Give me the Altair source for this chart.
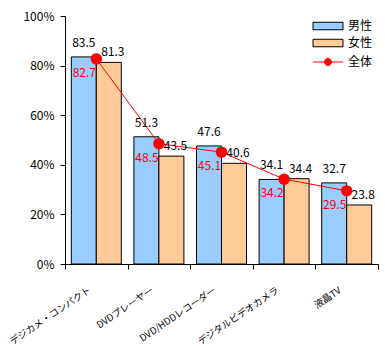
import altair as alt
import pandas as pd

categories = ["デジカメ・コンパクト", "DVDプレーヤー", "DVD/HDDレコーダー", "デジタルビデオカメラ", "液晶TV"]
male = [83.5, 51.3, 47.6, 34.1, 32.7]
female = [81.3, 43.5, 40.6, 34.4, 23.8]
total = [82.7, 48.5, 45.1, 34.2, 29.5]
series = ["男性", "女性"]
total_name = "全体"

FONT = "Noto Sans CJK JP"

rows = []
for c, m, f in zip(categories, male, female):
    rows.append({"cat": c, "s": "男性", "v": m})
    rows.append({"cat": c, "s": "女性", "v": f})
bars_df = pd.DataFrame(rows)
tot_df = pd.DataFrame({"cat": categories, "s": total_name, "v": total})

x_enc = alt.X(
    "cat:N",
    sort=categories,
    scale=alt.Scale(paddingInner=0, paddingOuter=0),
    axis=alt.Axis(
        title=None,
        labelAngle=-34,
        labelAlign="right",
        labelBaseline="middle",
        labelFont=FONT,
        labelFontSize=9.5,
        labelColor="black",
        labelPadding=20,
        labelOffset=-7,
        tickBand="extent",
        tickSize=5,
        tickColor="black",
        domainColor="black",
    ),
)
y_enc = alt.Y(
    "v:Q",
    scale=alt.Scale(domain=[0, 100]),
    axis=alt.Axis(
        title=None,
        values=[0, 20, 40, 60, 80, 100],
        labelExpr="datum.value + '%'",
        labelFont=FONT,
        labelFontSize=12,
        labelColor="black",
        tickSize=5,
        tickColor="black",
        domainColor="black",
        grid=False,
        labelPadding=6,
    ),
)
xoff = alt.XOffset("s:N", sort=series, scale=alt.Scale(domain=series, paddingInner=0, paddingOuter=0.252))

base = alt.Chart(bars_df)

bars = base.mark_bar(stroke="black", strokeWidth=1).encode(
    x=x_enc,
    y=y_enc,
    xOffset=xoff,
    fill=alt.Fill(
        "s:N",
        sort=series,
        scale=alt.Scale(domain=series, range=["#99CCFF", "#FFCC99"]),
        legend=alt.Legend(
            title=None,
            orient="none",
            legendX=257,
            legendY=4,
            symbolType="M-3,-0.75H3V0.75H-3Z",
            symbolSize=100,
            symbolStrokeColor="black",
            symbolStrokeWidth=1,
            labelOffset=14,
            labelFont=FONT,
            labelFontSize=12,
            labelColor="black",
            rowPadding=5,
            padding=0,
        ),
    ),
)

male_lbl = base.transform_filter(alt.datum.s == "男性").mark_text(
    font=FONT, fontSize=12, baseline="bottom", dy=-7, color="black"
).encode(x=alt.X("cat:N", sort=categories), y="v:Q", xOffset=xoff, text=alt.Text("v:Q", format=".1f"))

female_lbl = base.transform_filter(alt.datum.s == "女性").mark_text(
    font=FONT, fontSize=12, baseline="bottom", dy=-3, dx=4, color="black"
).encode(x=alt.X("cat:N", sort=categories), y="v:Q", xOffset=xoff, text=alt.Text("v:Q", format=".1f"))

tbase = alt.Chart(tot_df)
line = tbase.mark_line(strokeWidth=1).encode(
    x=alt.X("cat:N", sort=categories),
    y="v:Q",
    stroke=alt.Stroke(
        "s:N",
        scale=alt.Scale(domain=[total_name], range=["#FF0000"]),
        legend=alt.Legend(
            title=None,
            orient="none",
            legendX=257,
            legendY=40,
            symbolType="M-3,0H3M-0.7,0A0.7,0.7 0 1,1 0.7,0A0.7,0.7 0 1,1 -0.7,0Z",
            symbolSize=100,
            symbolFillColor="#FF0000",
            symbolStrokeWidth=1,
            labelOffset=14,
            labelFont=FONT,
            labelFontSize=12,
            labelColor="black",
            padding=0,
        ),
    ),
)
points = tbase.mark_point(filled=True, color="#FF0000", size=130, opacity=1).encode(
    x=alt.X("cat:N", sort=categories), y="v:Q"
)
tot_lbl = tbase.mark_text(font=FONT, fontSize=12, baseline="top", dy=9, dx=-12, color="#FF0000").encode(
    x=alt.X("cat:N", sort=categories), y="v:Q", text=alt.Text("v:Q", format=".1f")
)

chart = (
    alt.layer(bars, line, points, male_lbl, female_lbl, tot_lbl)
    .resolve_scale(xOffset="shared")
    .properties(
        width=313,
        height=248,
        padding={"left": 65, "top": 16, "right": 7, "bottom": 84},
        autosize=alt.AutoSizeParams(type="none"),
        background="white",
    )
    .configure_view(stroke=None)
)

chart.save("out.html", embed_options={"renderer": "svg", "actions": False})
